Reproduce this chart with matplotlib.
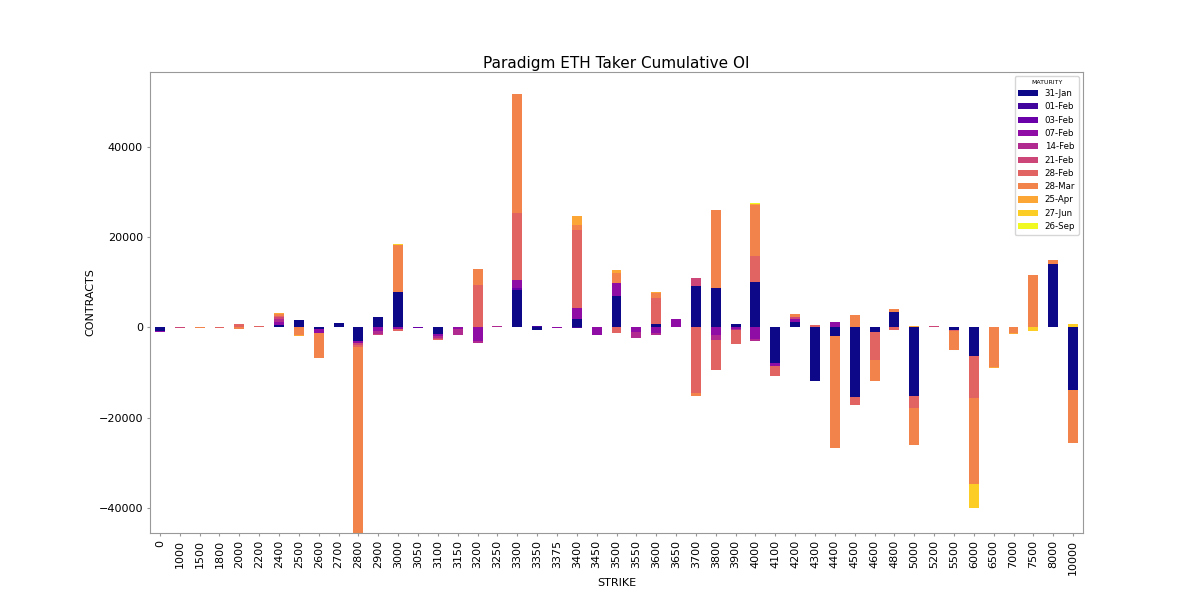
import matplotlib
matplotlib.use("Agg")
import matplotlib.pyplot as plt
import pandas as pd

# strikes (x axis categories)
strikes = [0, 1000, 1500, 1800, 2000, 2200, 2400, 2500, 2600, 2700,
           2800, 2900, 3000, 3050, 3100, 3150, 3200, 3250, 3300, 3350,
           3375, 3400, 3450, 3500, 3550, 3600, 3650, 3700, 3800, 3900,
           4000, 4100, 4200, 4300, 4400, 4500, 4600, 4800, 5000, 5200,
           5500, 6000, 6500, 7000, 7500, 8000, 10000]

maturities = ["31-Jan", "01-Feb", "03-Feb", "07-Feb", "14-Feb", "21-Feb",
              "28-Feb", "28-Mar", "25-Apr", "27-Jun", "26-Sep"]

# net taker OI per maturity (sparse: strike -> contracts)
jan31 = {0: -700, 2400: 500, 2500: 1700, 2600: -300, 2700: 1000, 2800: -3000,
         2900: 2200, 3000: 7850, 3100: -1400, 3300: 8300, 3350: -500, 3400: 1900,
         3500: 6900, 3600: 700, 3700: 9100, 3800: 8750, 3900: 700, 4000: 10000,
         4100: -7800, 4200: 1300, 4300: -11850, 4400: -1850, 4500: -15500,
         4600: -1100, 4800: 3400, 5000: -15250, 5500: -500, 6000: -6300,
         8000: 14000, 10000: -14000}
feb01 = {3350: 300, 3400: -200}
feb03 = {3050: -100, 3300: 400}
feb07 = {0: -400, 2400: 700, 2600: -900, 2800: -500, 2900: -800, 3000: -400,
         3100: -500, 3150: -400, 3200: -3000, 3300: 1800, 3375: -100, 3400: 2500,
         3450: -1800, 3500: 2900, 3550: -1100, 3600: -1200, 3650: 1800,
         3800: -1800, 3900: -300, 4000: -2600, 4100: -700, 4200: 500, 4400: 1200}
feb14 = {2400: 700, 2900: -600, 3050: -100, 3100: -400, 3150: -1200, 3200: -500,
         3250: 400, 3550: -1200, 3600: -600, 3800: -1000, 3900: -200, 4000: -500}
feb21 = {1000: -100, 2400: 300, 2800: -400, 2900: -400, 3100: -300, 3700: 1800,
         4200: 600, 5200: 300}
feb28 = {1800: -200, 2000: 750, 2200: 250, 2400: 300, 2800: -400, 3000: -400,
         3100: -300, 3200: 9500, 3300: 14800, 3400: 17100, 3500: -1200,
         3600: 5800, 3700: -14600, 3800: -6700, 3900: -3200, 4000: 5900,
         4100: -2200, 4300: 450, 4500: -1800, 4600: -6100, 4800: -500,
         5000: -2600, 5500: -400, 6000: -9300}
mar28 = {1500: -200, 2000: -400, 2400: 500, 2500: -1700, 2600: -5500,
         2800: -45000, 3000: 10500, 3200: 3500, 3300: 26500, 3400: 1300,
         3500: 2200, 3600: 1100, 3700: -700, 3800: 17300, 4000: 11300, 4200: 600,
         4400: -25000, 4500: 2700, 4600: -4600, 4800: 600, 5000: -8200,
         5500: -4100, 6000: -19200, 6500: -8800, 7000: -1200, 7500: 11700,
         8000: 1000, 10000: -11700}
apr25 = {2400: 100, 2500: -150, 3400: 2000, 3500: 700, 3600: 300, 4000: 200,
         5000: 300, 6500: -150, 7000: -300}
jun27 = {3000: 100, 6000: -5200, 7500: -700, 10000: 700}
sep26 = {4000: 150}

series = [jan31, feb01, feb03, feb07, feb14, feb21, feb28, mar28, apr25, jun27, sep26]

df = pd.DataFrame({m: [s.get(k, 0) for k in strikes] for m, s in zip(maturities, series)},
                  index=strikes)
df.index.name = "STRIKE"

fig, ax = plt.subplots(figsize=(12, 6), dpi=100)
df.plot(kind="bar", stacked=True, colormap="plasma", ax=ax)

ax.set_title("Paradigm ETH Taker Cumulative OI", fontsize=11, pad=3)
ax.set_xlabel("STRIKE", fontsize=8, labelpad=2)
ax.set_ylabel("CONTRACTS", fontsize=8, labelpad=2)
ax.tick_params(axis="both", labelsize=8, color="#999999", length=2.5, pad=2.5)
ax.set_ylim(-45570, 56650)
for sp in ax.spines.values():
    sp.set_color("#999999")

leg = ax.legend(title="MATURITY", fontsize=6.2, loc="upper right", handlelength=2.3)
leg.get_title().set_fontsize(4.5)

fig.subplots_adjust(left=0.125, right=0.9025, bottom=0.112, top=0.88)
plt.savefig("out.png", dpi=100)
